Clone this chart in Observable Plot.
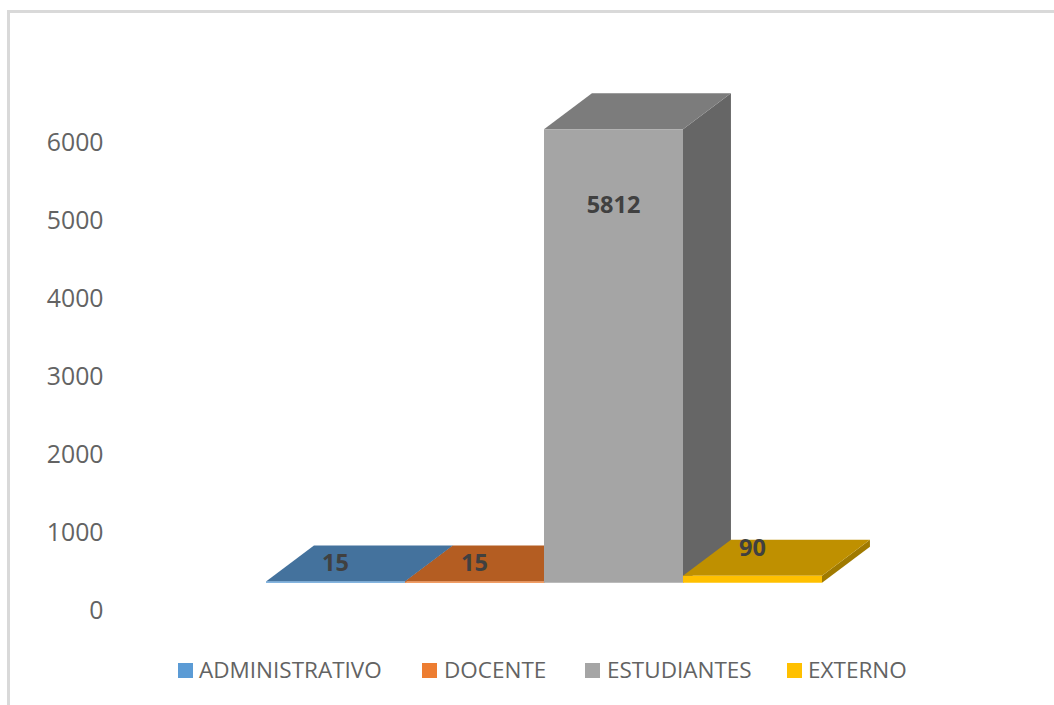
<!DOCTYPE html>
<html lang="es">
<head>
<meta charset="utf-8">
<script src="https://cdn.jsdelivr.net/npm/d3@7"></script>
<script src="https://cdn.jsdelivr.net/npm/@observablehq/plot@0.6"></script>
<style>
  html, body { margin: 0; padding: 0; background: #fff; width: 1054px; height: 705px; overflow: hidden; }
  #frame { position: absolute; left: 7px; top: 10px; right: 0; bottom: 0; border-left: 3px solid #d9d9d9; border-top: 3px solid #d9d9d9; }
  #chart { position: absolute; left: 0; top: 0; }
  #chart svg { background: transparent; display: block; }
  #legend { position: absolute; left: 0; top: 650px; width: 1054px; height: 55px; font: 22.5px "Open Sans", sans-serif; color: #636363; }
  .item { position: absolute; top: 5px; line-height: 29px; white-space: nowrap; }
  .swatch { position: absolute; top: 13px; width: 15px; height: 15px; }
</style>
</head>
<body>
<div id="frame"></div>
<div id="chart"></div>
<div id="legend"></div>
<script>
const categories = ["ADMINISTRATIVO", "DOCENTE", "ESTUDIANTES", "EXTERNO"];
const values = [15, 15, 5812, 90];
const frontColors = ["#5b9bd5", "#ed7d31", "#a5a5a5", "#ffc000"];
const topColors = ["#44729d", "#b45d22", "#7c7c7c", "#bf9000"];
const sideColors = ["#376087", "#96501d", "#666666", "#a07a00"];
const yTicks = [0, 1000, 2000, 3000, 4000, 5000, 6000];

// 3D extrusion, in scale units
const floorLift = 350;   // the bars stand above the axis zero
const depthX = 0.345;    // category widths
const depthY = 462;      // axis units
const labelLevels = [596, 596, 5186, 788];
const legendLeft = [178, 422, 585, 787];
const legendTextLeft = [199, 444, 607, 808];

const faces = [];
values.forEach((v, i) => {
  const b = floorLift, t = floorLift + v;
  const polygon = (face, fill, pts) => pts.forEach(([x, y]) => faces.push({id: i + face, x, y, fill}));
  polygon("side", sideColors[i], [[i + 1, b], [i + 1 + depthX, b + depthY], [i + 1 + depthX, t + depthY], [i + 1, t]]);
  polygon("top", topColors[i], [[i, t], [i + 1, t], [i + 1 + depthX, t + depthY], [i + depthX, t + depthY]]);
  polygon("front", frontColors[i], [[i, b], [i + 1, b], [i + 1, t], [i, t]]);
});

const labels = categories.map((c, i) => ({x: i + 0.5, y: labelLevels[i], text: String(values[i])}));

const chart = Plot.plot({
  width: 1054,
  height: 650,
  marginLeft: 106,
  marginTop: 0,
  marginBottom: 0,
  marginRight: 0,
  style: {background: "transparent", fontFamily: "'Open Sans', sans-serif"},
  x: {type: "linear", domain: [0, 4], range: [265.5, 821.5], axis: null},
  y: {type: "linear", domain: [0, 6000], range: [609.5, 141.5], clamp: false},
  color: {type: "identity"},
  marks: [
    Plot.axisY(yTicks, {anchor: "left", tickSize: 0, tickPadding: 3, tickFormat: "d", fontSize: 24.8, fill: "#636363", dy: 1, label: null}),
    Plot.line(faces, {x: "x", y: "y", z: "id", fill: "fill", stroke: "none", curve: "linear-closed"}),
    Plot.text(labels, {x: "x", y: "y", text: "text", fontSize: 23.5, fontWeight: 700, fill: "#404040"})
  ]
});
document.getElementById("chart").append(chart);

const legend = document.getElementById("legend");
categories.forEach((c, i) => {
  const s = document.createElement("div");
  s.className = "swatch";
  s.style.left = legendLeft[i] + "px";
  s.style.background = frontColors[i];
  const t = document.createElement("div");
  t.className = "item";
  t.style.left = legendTextLeft[i] + "px";
  t.textContent = c;
  legend.append(s, t);
});
</script>
</body>
</html>
